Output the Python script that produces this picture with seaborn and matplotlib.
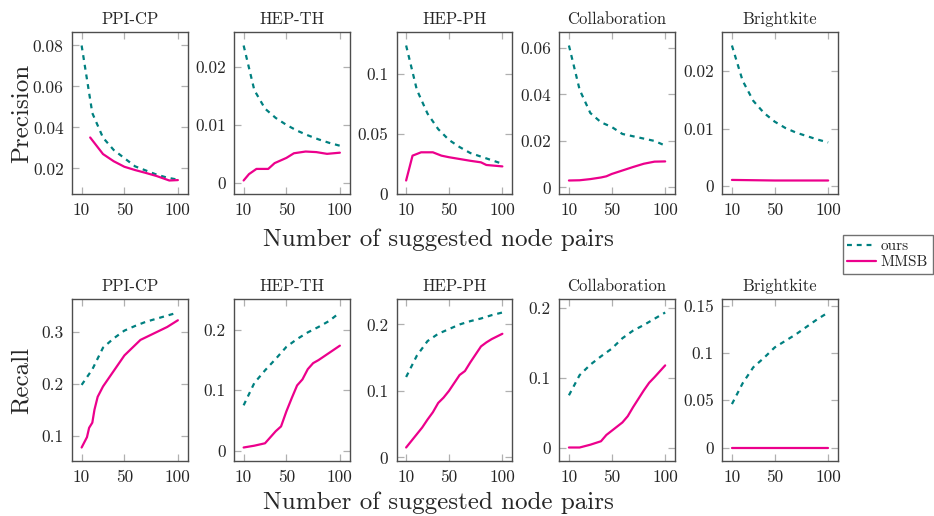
import numpy as np
import pandas as pd
import matplotlib
matplotlib.use("Agg")
import matplotlib.pyplot as plt
from matplotlib.lines import Line2D
import seaborn as sns

# ---------------- data ----------------
datasets = ["PPI-CP", "HEP-TH", "HEP-PH", "Collaboration", "Brightkite"]
x_ours = [10, 20, 30, 40, 50, 60, 70, 80, 90, 100]

prec_ours_ppi = [0.080, 0.047, 0.035, 0.029, 0.025, 0.021, 0.019, 0.017, 0.0155, 0.0145]
prec_ours_hepth = [0.0237, 0.0160, 0.0128, 0.0112, 0.0100, 0.0090, 0.0082, 0.0075, 0.0069, 0.0064]
prec_ours_hepph = [0.124, 0.087, 0.067, 0.054, 0.045, 0.039, 0.034, 0.031, 0.028, 0.025]
prec_ours_collab = [0.061, 0.042, 0.032, 0.028, 0.026, 0.023, 0.022, 0.021, 0.020, 0.018]
prec_ours_bk = [0.0244, 0.0183, 0.0148, 0.0127, 0.0112, 0.0101, 0.0093, 0.0087, 0.0081, 0.0076]

prec_mmsb_ppi_x = [18, 30, 40, 50, 60, 70, 80, 92, 100]
prec_mmsb_ppi = [0.0351, 0.0270, 0.0235, 0.0208, 0.0192, 0.0178, 0.0163, 0.0141, 0.0143]
prec_mmsb_hepth_x = [10, 15, 22, 33, 39, 50, 57, 68, 78, 88, 100]
prec_mmsb_hepth = [0.0004, 0.0015, 0.0024, 0.0024, 0.0034, 0.0043, 0.0051, 0.0054, 0.0053, 0.0050, 0.0052]
prec_mmsb_hepph_x = [10, 16, 24, 35, 43, 50, 60, 70, 80, 85, 100]
prec_mmsb_hepph = [0.011, 0.0318, 0.0346, 0.0346, 0.0318, 0.0305, 0.0290, 0.0275, 0.0262, 0.0240, 0.0228]
prec_mmsb_collab_x = [10, 20, 30, 40, 45, 50, 60, 70, 80, 90, 100]
prec_mmsb_collab = [0.0030, 0.0031, 0.0036, 0.0043, 0.0048, 0.0058, 0.0073, 0.0088, 0.0102, 0.0111, 0.0112]
prec_mmsb_bk_x = [10, 30, 50, 70, 100]
prec_mmsb_bk = [0.0011, 0.00105, 0.0010, 0.0010, 0.0010]

rec_ours_ppi = [0.198, 0.228, 0.270, 0.288, 0.303, 0.312, 0.320, 0.326, 0.332, 0.338]
rec_ours_hepth = [0.075, 0.112, 0.133, 0.152, 0.172, 0.185, 0.196, 0.205, 0.215, 0.229]
rec_ours_hepph = [0.121, 0.153, 0.175, 0.186, 0.193, 0.200, 0.205, 0.209, 0.214, 0.218]
rec_ours_collab = [0.075, 0.104, 0.119, 0.131, 0.142, 0.157, 0.168, 0.176, 0.185, 0.194]
rec_ours_bk = [0.046, 0.068, 0.085, 0.095, 0.106, 0.113, 0.120, 0.128, 0.136, 0.143]

rec_mmsb_ppi_x = [10, 12, 15, 17, 20, 22, 25, 30, 35, 40, 45, 50, 55, 60, 65, 70, 80, 90, 100]
rec_mmsb_ppi = [0.077, 0.085, 0.097, 0.115, 0.125, 0.150, 0.175, 0.195, 0.210, 0.225, 0.240,
                0.255, 0.265, 0.275, 0.285, 0.290, 0.300, 0.310, 0.323]
rec_mmsb_hepth_x = [10, 20, 30, 35, 40, 45, 50, 55, 60, 65, 70, 75, 80, 90, 100]
rec_mmsb_hepth = [0.005, 0.008, 0.012, 0.022, 0.032, 0.040, 0.065, 0.087, 0.108, 0.118,
                  0.135, 0.145, 0.150, 0.162, 0.174]
rec_mmsb_hepph_x = [10, 15, 20, 25, 30, 35, 40, 45, 50, 55, 60, 65, 70, 75, 80, 85, 90, 95, 100]
rec_mmsb_hepph = [0.015, 0.025, 0.035, 0.045, 0.057, 0.068, 0.082, 0.090, 0.100, 0.112,
                  0.124, 0.130, 0.143, 0.155, 0.167, 0.173, 0.178, 0.182, 0.186]
rec_mmsb_collab_x = [10, 20, 30, 40, 45, 50, 60, 65, 70, 75, 80, 85, 90, 100]
rec_mmsb_collab = [0.000, 0.000, 0.004, 0.009, 0.018, 0.024, 0.036, 0.045, 0.058, 0.070,
                   0.082, 0.093, 0.101, 0.118]
rec_mmsb_bk_x = [10, 50, 100]
rec_mmsb_bk = [0.0, 0.0, 0.0]

xticks = [10, 50, 100]
prec_yticks = [[0.02, 0.04, 0.06, 0.08], [0, 0.01, 0.02], [0, 0.05, 0.1],
               [0, 0.02, 0.04, 0.06], [0, 0.01, 0.02]]
rec_yticks = [[0.1, 0.2, 0.3], [0, 0.1, 0.2], [0, 0.1, 0.2], [0, 0.1, 0.2],
              [0, 0.05, 0.1, 0.15]]

prec_ours = [prec_ours_ppi, prec_ours_hepth, prec_ours_hepph, prec_ours_collab, prec_ours_bk]
prec_mmsb = [(prec_mmsb_ppi_x, prec_mmsb_ppi), (prec_mmsb_hepth_x, prec_mmsb_hepth),
             (prec_mmsb_hepph_x, prec_mmsb_hepph), (prec_mmsb_collab_x, prec_mmsb_collab),
             (prec_mmsb_bk_x, prec_mmsb_bk)]
rec_ours = [rec_ours_ppi, rec_ours_hepth, rec_ours_hepph, rec_ours_collab, rec_ours_bk]
rec_mmsb = [(rec_mmsb_ppi_x, rec_mmsb_ppi), (rec_mmsb_hepth_x, rec_mmsb_hepth),
            (rec_mmsb_hepph_x, rec_mmsb_hepph), (rec_mmsb_collab_x, rec_mmsb_collab),
            (rec_mmsb_bk_x, rec_mmsb_bk)]

# ---------------- style ----------------
sns.set_style("ticks")
plt.rcParams["font.family"] = ["cmr10", "DejaVu Serif"]
plt.rcParams["mathtext.fontset"] = "cm"
plt.rcParams["axes.formatter.use_mathtext"] = True

TEAL = "#008080"
MAG = "#EC008C"
FRAME = "#4d4d4d"
TICKC = "#b0b0b0"
TXT = "#262626"

fig = plt.figure(figsize=(9.34, 5.16), dpi=100)
W, H = 934.0, 516.0
lefts = [72, 234, 396.5, 559.3, 722.3]
aw = 115.5
rows = [(32, 194), (299, 461)]


def fmt(v):
    return f"{v:g}"


for r, (top, bot) in enumerate(rows):
    ours_list = prec_ours if r == 0 else rec_ours
    mmsb_list = prec_mmsb if r == 0 else rec_mmsb
    yt_list = prec_yticks if r == 0 else rec_yticks
    for c, name in enumerate(datasets):
        ax = fig.add_axes([lefts[c] / W, (H - bot) / H, aw / W, (bot - top) / H])
        sns.lineplot(x=x_ours, y=ours_list[c], ax=ax, color=TEAL, lw=1.6,
                     linestyle=(0, (2.2, 2.2)), estimator=None, sort=False)
        mx, my = mmsb_list[c]
        sns.lineplot(x=mx, y=my, ax=ax, color=MAG, lw=1.6, estimator=None, sort=False)
        ax.margins(x=0.1, y=0.1)
        ax.set_xticks(xticks)
        ax.set_xticklabels([fmt(v) for v in xticks])
        ax.set_yticks(yt_list[c])
        ax.set_yticklabels([fmt(v) for v in yt_list[c]])
        ax.tick_params(direction="in", length=5, width=0.9, color=TICKC,
                       top=True, right=True, labelsize=12.5, labelcolor=TXT, pad=6)
        for s in ax.spines.values():
            s.set_color(FRAME)
            s.set_linewidth(1.0)
        ax.set_xlabel("")
        ax.set_ylabel("")
        ax.set_title(name, fontsize=12, color=TXT, pad=6)

fig.text(22 / W, 1 - 113 / H, "Precision", rotation=90, ha="center", va="center",
         fontsize=18, color=TXT)
fig.text(22 / W, 1 - 380 / H, "Recall", rotation=90, ha="center", va="center",
         fontsize=18, color=TXT)
fig.text(438 / W, 1 - 240 / H, "Number of suggested node pairs", ha="center",
         va="center", fontsize=18, color=TXT)
fig.text(438 / W, 1 - 503 / H, "Number of suggested node pairs", ha="center",
         va="center", fontsize=18, color=TXT)

handles = [Line2D([], [], color=TEAL, lw=1.6, linestyle=(0, (2.2, 2.2))),
           Line2D([], [], color=MAG, lw=1.6)]
leg = fig.legend(handles, ["ours", "MMSB"], loc="upper left",
                 bbox_to_anchor=(842.7 / W, 1 - 235 / H), fontsize=11,
                 frameon=True, fancybox=False, handlelength=1.9, handletextpad=0.3,
                 borderpad=0.3, labelspacing=0.15, borderaxespad=0)
leg.get_frame().set_edgecolor(FRAME)
leg.get_frame().set_linewidth(1.0)
for t in leg.get_texts():
    t.set_color(TXT)

fig.savefig("out.png", dpi=100)
